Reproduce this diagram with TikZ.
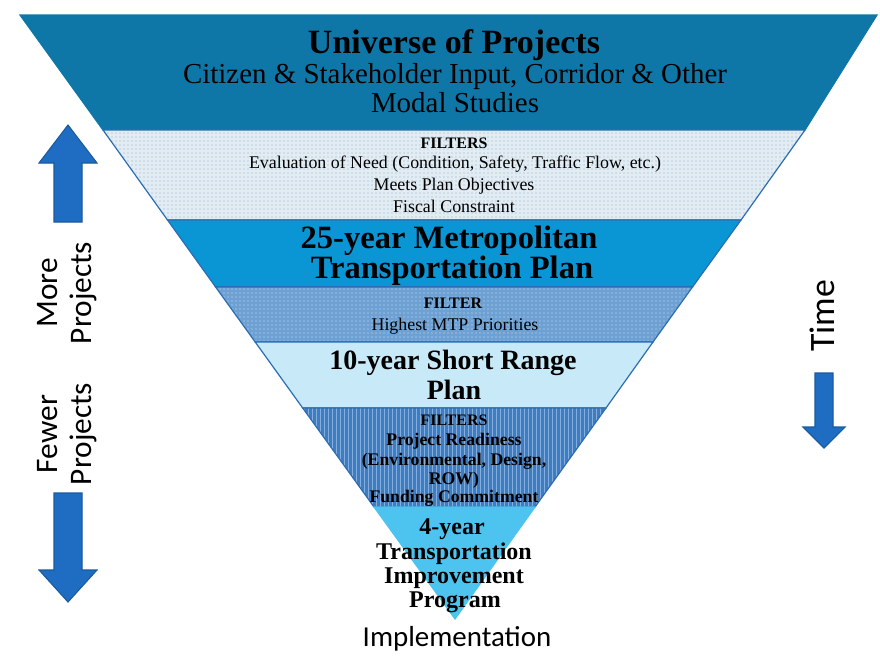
\documentclass[tikz,border=0pt]{standalone}
\usepackage{fontspec}
\setmainfont{Liberation Serif}
\newfontfamily\sansf{Carlito}
\usetikzlibrary{patterns}
\definecolor{uniblue}{HTML}{0E77A7}
\definecolor{fonebase}{HTML}{E2ECF2}
\definecolor{fonedot}{HTML}{8FB0C8}
\definecolor{mtpblue}{HTML}{0A96D4}
\definecolor{ftwobase}{HTML}{6DA1D3}
\definecolor{ftwodot}{HTML}{CFE1F2}
\definecolor{srpblue}{HTML}{C8EAF8}
\definecolor{fthreebase}{HTML}{3F7DC3}
\definecolor{fthreeline}{HTML}{86AEDD}
\definecolor{tipblue}{HTML}{4DC4F0}
\definecolor{edgeblue}{HTML}{2B6DB3}
\definecolor{arrowblue}{HTML}{1F6DC2}
\definecolor{arrowedge}{HTML}{1A5A9E}
\tikzset{
  band/.style={draw=edgeblue, line width=0.9},
  blockarrow/.style={fill=arrowblue, draw=arrowedge, line width=0.8, line join=miter},
  lbl/.style={anchor=base, inner sep=0pt, text=black},
  sidelbl/.style={inner sep=0pt, rotate=90, align=center, font=\sansf\fontsize{23.5}{25}\selectfont}
}
\begin{document}
\begin{tikzpicture}[x=0.75pt,y=-0.75pt]
\useasboundingbox (0,0) rectangle (880,665);
\fill[white] (0,0) rectangle (880,665);
% corner coordinates
\coordinate (TL) at (20,15);   \coordinate (TR) at (877,15);
\coordinate (L1) at (103,130); \coordinate (R1) at (805,130);
\coordinate (L2) at (167.5,220); \coordinate (R2) at (741,220);
\coordinate (L3) at (215.6,287); \coordinate (R3) at (692.5,287);
\coordinate (L4) at (255.2,342); \coordinate (R4) at (653,342);
\coordinate (L5) at (302.7,408); \coordinate (R5) at (606,408);
\coordinate (L6) at (374,507); \coordinate (R6) at (535,507);
\coordinate (AP) at (455,619);
% bands
\path[band, fill=uniblue, draw=uniblue] (TL) -- (TR) -- (R1) -- (L1) -- cycle;
\path[band, preaction={fill=fonebase}, pattern=dots, pattern color=fonedot] (L1) -- (R1) -- (R2) -- (L2) -- cycle;
\path[band, fill=mtpblue] (L2) -- (R2) -- (R3) -- (L3) -- cycle;
\path[band, preaction={fill=ftwobase}, pattern=dots, pattern color=ftwodot] (L3) -- (R3) -- (R4) -- (L4) -- cycle;
\path[band, fill=srpblue] (L4) -- (R4) -- (R5) -- (L5) -- cycle;
\path[band, preaction={fill=fthreebase}, pattern=vertical lines, pattern color=fthreeline] (L5) -- (R5) -- (R6) -- (L6) -- cycle;
\path[band, fill=tipblue, draw=tipblue] (L6) -- (R6) -- (AP) -- cycle;
% texts: universe
\node[lbl, font=\bfseries\fontsize{25.5}{30}\selectfont] (u1) at (454,53) {Universe of Projects};
\node[lbl, font=\fontsize{21.7}{26}\selectfont] (u2) at (455,83) {Citizen \& Stakeholder Input, Corridor \& Other};
\node[lbl, font=\fontsize{21.7}{26}\selectfont] (u3) at (455,112) {Modal Studies};
% filters 1
\node[lbl, font=\bfseries\fontsize{12}{14}\selectfont] (fa1) at (454,148) {FILTERS};
\node[lbl, font=\fontsize{13.4}{16}\selectfont] (fa2) at (455,168) {Evaluation of Need (Condition, Safety, Traffic Flow, etc.)};
\node[lbl, font=\fontsize{13.4}{16}\selectfont] (fa3) at (454,190) {Meets Plan Objectives};
\node[lbl, font=\fontsize{13.4}{16}\selectfont] (fa4) at (454,212) {Fiscal Constraint};
% MTP
\node[lbl, font=\bfseries\fontsize{24.4}{29}\selectfont] (m1) at (449,248) {25-year Metropolitan};
\node[lbl, font=\bfseries\fontsize{24.4}{29}\selectfont] (m2) at (452,278) {Transportation Plan};
% filter 2
\node[lbl, font=\bfseries\fontsize{12}{14}\selectfont] (fb1) at (453,308) {FILTER};
\node[lbl, font=\fontsize{13.4}{16}\selectfont] (fb2) at (455,330) {Highest MTP Priorities};
% short range plan
\node[lbl, font=\bfseries\fontsize{21}{26}\selectfont] (s1) at (453,369) {10-year Short Range};
\node[lbl, font=\bfseries\fontsize{21}{26}\selectfont] (s2) at (454,399) {Plan};
% filters 3
\node[lbl, font=\bfseries\fontsize{12}{14}\selectfont] (fc1) at (454,425) {FILTERS};
\node[lbl, font=\bfseries\fontsize{13.3}{16}\selectfont] (fc2) at (454,445) {Project Readiness};
\node[lbl, font=\bfseries\fontsize{13.3}{16}\selectfont] (fc3) at (454,465) {(Environmental, Design,};
\node[lbl, font=\bfseries\fontsize{13.3}{16}\selectfont] (fc4) at (454,484) {ROW)};
\node[lbl, font=\bfseries\fontsize{13.3}{16}\selectfont] (fc5) at (454,502) {Funding Commitment};
% tip
\node[lbl, font=\bfseries\fontsize{18}{22}\selectfont] (t1) at (452,534) {4-year};
\node[lbl, font=\bfseries\fontsize{18}{22}\selectfont] (t2) at (454,559) {Transportation};
\node[lbl, font=\bfseries\fontsize{18}{22}\selectfont] (t3) at (454,583) {Improvement};
\node[lbl, font=\bfseries\fontsize{18}{22}\selectfont] (t4) at (455,607) {Program};
% implementation
\node[lbl, font=\sansf\fontsize{21.7}{26}\selectfont] (impl) at (457,646) {Implementation};
% side labels
\node[sidelbl] (more) at (67,293) {More\\Projects};
\node[sidelbl] (fewer) at (67,434) {Fewer\\Projects};
\node[inner sep=0pt, rotate=90, font=\sansf\fontsize{26.8}{30}\selectfont] (time) at (822,316) {Time};
% arrows
\draw[blockarrow] (68,125) -- (97,163) -- (82,163) -- (82,222) -- (54,222) -- (54,163) -- (39,163) -- cycle;
\draw[blockarrow] (68,602) -- (97,570) -- (82,570) -- (82,493) -- (54,493) -- (54,570) -- (39,570) -- cycle;
\draw[blockarrow] (824,448) -- (845,427) -- (833,427) -- (833,373) -- (815,373) -- (815,427) -- (803,427) -- cycle;
\end{tikzpicture}
\end{document}
